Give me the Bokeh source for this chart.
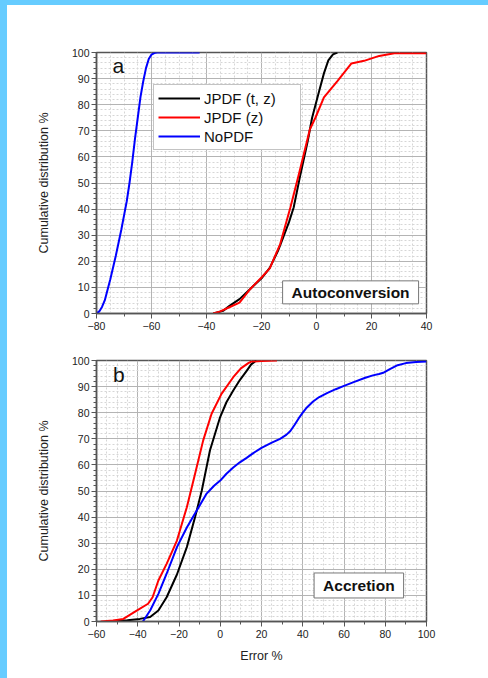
from bokeh.plotting import figure
from bokeh.models import FixedTicker, Legend, LegendItem, Label, Range1d, Column
from bokeh.embed import file_html
from bokeh.resources import INLINE

# ---------------- data ----------------
# Panel a: Autoconversion
a_tz_x = [-37.5, -34, -31.5, -28, -24, -20, -17, -14, -12.6, -10, -8.3, -5.9, -3.2, -1.6, 0.9, 2.7, 4.3, 6, 7.6]
a_tz_y = [0, 1, 3, 5.5, 9.5, 13.5, 17.5, 24, 27.8, 35, 40.6, 53, 66, 75, 85, 92, 97, 99.3, 100]

a_z_x = [-37.6, -35, -31.5, -28, -24, -20, -17, -13.2, -9.5, -6.5, -2.4, -0.4, 2.7, 7.6, 12.7, 17.3, 22.8, 28.3, 40]
a_z_y = [0, 0.8, 2.5, 4.2, 9.5, 13.8, 17.3, 26.6, 40.6, 53, 70.6, 75, 82.8, 89, 95.8, 96.8, 98.7, 99.7, 99.7]

a_no_x = [-80, -79, -78, -77, -76, -75, -74, -73, -72, -71, -70, -69, -68, -67, -66, -65, -64, -63, -62, -61, -60, -59, -58, -42.5]
a_no_y = [0, 0.8, 2.5, 5, 9, 13, 17.5, 22, 27, 32, 37.5, 43, 50, 58, 67, 75, 83, 89, 94, 97.5, 99.2, 99.8, 100, 100]

# Panel b: Accretion
b_tz_x = [-53.5, -45, -39, -34, -30, -26, -21, -16.2, -12.2, -9, -5, -0.2, 3, 6.3, 9.5, 12.8, 15, 17.5]
b_tz_y = [0, 0.5, 1, 1.7, 4.2, 9.3, 18, 28.5, 40, 50, 65.5, 78, 84, 88.5, 92.5, 96, 98.5, 100]

b_z_x = [-58, -52, -47, -40.5, -35, -32.8, -30, -26, -21, -16.2, -12.2, -8.3, -4.2, 0.6, 6.3, 10, 13.6, 15, 20, 27.5]
b_z_y = [0, 0.4, 1, 4.2, 6.8, 9.3, 15.7, 22.1, 31, 43.8, 56.6, 69.3, 79.6, 87.2, 93.6, 97, 99, 99.6, 99.8, 100]

b_no_x = [-37.5, -34, -30, -26, -21, -16.2, -11.4, -6.6, -3, 0, 3, 6.3, 9.5, 12.8, 16, 20, 25, 29, 32, 34, 36, 38, 40, 42,
          45, 48, 52, 56, 60, 65, 70, 74, 77, 79, 82, 86, 90, 95, 100]
b_no_y = [0, 4.2, 10.6, 18.3, 28.5, 36, 42.5, 49, 52, 54, 56.6, 59, 61, 62.7, 64.5, 66.5, 68.5, 70, 71.5, 73, 75.3, 77.8,
          80, 82, 84.3, 86, 87.6, 89, 90.3, 91.8, 93.3, 94.3, 94.8, 95.3, 96.6, 98.2, 99, 99.4, 99.6]

series_names = ["JPDF (t, z)", "JPDF (z)", "NoPDF"]
series_colors = ["#000000", "#ff0000", "#0000ff"]

a_xticks = [-80, -60, -40, -20, 0, 20, 40]
b_xticks = [-60, -40, -20, 0, 20, 40, 60, 80, 100]
yticks = [0, 10, 20, 30, 40, 50, 60, 70, 80, 90, 100]

FONT = "Liberation Sans"


def make_fig(height, xr, xticks, min_top, min_bottom):
    p = figure(width=481, height=height, x_range=Range1d(*xr), y_range=Range1d(0, 100),
               output_backend="svg", toolbar_location=None,
               min_border_top=min_top, min_border_bottom=min_bottom,
               min_border_left=89, min_border_right=62)
    p.background_fill_color = "white"
    p.border_fill_color = "white"
    p.outline_line_color = "#555555"
    p.outline_line_width = 1.5

    x_minor = [v + 10 for v in xticks[:-1]]
    y_minor = [v for v in range(0, 101, 2) if v % 10 != 0]
    x_grid_minor = [v for v in range(int(xr[0]), int(xr[1]) + 1, 5) if v % 20 != 0]

    p.xaxis.ticker = FixedTicker(ticks=xticks, minor_ticks=x_minor)
    p.yaxis.ticker = FixedTicker(ticks=yticks, minor_ticks=y_minor)
    p.xgrid[0].ticker = FixedTicker(ticks=xticks, minor_ticks=x_grid_minor)
    p.ygrid[0].ticker = FixedTicker(ticks=yticks, minor_ticks=y_minor)

    for g in (p.xgrid[0], p.ygrid[0]):
        g.grid_line_color = "#b4b4b4"
        g.grid_line_width = 1
        g.minor_grid_line_color = "#d6d6d6"
        g.minor_grid_line_dash = "2 2"
        g.minor_grid_line_width = 1

    for ax in (p.xaxis[0], p.yaxis[0]):
        ax.axis_line_color = "#555555"
        ax.axis_line_width = 1.5
        ax.major_tick_line_color = "#555555"
        ax.minor_tick_line_color = "#555555"
        ax.major_tick_out = 5
        ax.major_tick_in = 0
        ax.minor_tick_out = 3
        ax.minor_tick_in = 0
        ax.major_label_text_font = FONT
        ax.major_label_text_font_size = "10.5px"
        ax.major_label_text_color = "#222222"
        ax.axis_label_text_font = FONT
        ax.axis_label_text_font_style = "normal"
        ax.axis_label_text_color = "#222222"
        ax.axis_label_text_font_size = "12.5px"

    p.xaxis[0].major_label_standoff = 3
    p.yaxis[0].major_label_standoff = 2
    p.yaxis[0].axis_label = "Cumulative distribution %"
    p.yaxis[0].axis_label_standoff = 18
    return p


# ---------------- panel a ----------------
pa = make_fig(333, (-80, 40), a_xticks, 47, 25)
rs = []
for xs, ys, c in zip([a_tz_x, a_z_x, a_no_x], [a_tz_y, a_z_y, a_no_y], series_colors):
    rs.append(pa.line(xs, ys, line_color=c, line_width=2))

legend = Legend(items=[LegendItem(label=n, renderers=[r]) for n, r in zip(series_names, rs)],
                location=(57, 163), orientation="vertical")
legend.label_text_font = FONT
legend.label_text_font_size = "15px"
legend.label_text_color = "#111111"
legend.glyph_width = 42
legend.glyph_height = 18
legend.label_height = 18
legend.label_width = 92
legend.label_standoff = 4
legend.spacing = 1
legend.padding = 4
legend.margin = 0
legend.border_line_color = "#888888"
legend.border_line_width = 1
legend.background_fill_color = "white"
legend.background_fill_alpha = 1
pa.add_layout(legend)

pa.add_layout(Label(x=-74.2, y=95, text="a", text_font=FONT, text_font_size="21px",
                    text_color="#111111", text_baseline="alphabetic"))
pa.add_layout(Label(x=12.4, y=8.1, text="Autoconversion", text_font=FONT,
                    text_font_size="15.5px", text_font_style="bold", text_color="#111111",
                    text_align="center", text_baseline="middle",
                    background_fill_color="white", border_line_color="#777777",
                    border_line_width=1,
                    padding=dict(left=9, right=9, top=3, bottom=3)))

# ---------------- panel b ----------------
pb = make_fig(340, (-60, 100), b_xticks, 22, 57)
for xs, ys, c in zip([b_tz_x, b_z_x, b_no_x], [b_tz_y, b_z_y, b_no_y], series_colors):
    pb.line(xs, ys, line_color=c, line_width=2)
pb.xaxis[0].axis_label = "Error %"
pb.xaxis[0].axis_label_standoff = 8

pb.add_layout(Label(x=-52, y=94.5, text="b", text_font=FONT, text_font_size="21px",
                    text_color="#111111", text_baseline="alphabetic"))
pb.add_layout(Label(x=67.2, y=13.8, text="Accretion", text_font=FONT,
                    text_font_size="15.5px", text_font_style="bold", text_color="#111111",
                    text_align="center", text_baseline="middle",
                    background_fill_color="white", border_line_color="#777777",
                    border_line_width=1,
                    padding=dict(left=9, right=9, top=4, bottom=4)))

inner = Column(children=[pa, pb], spacing=0, margin=(5, 0, 0, 7),
               styles={"background-color": "white"})
page = Column(children=[inner], styles={"background-color": "#66CCFF"})

open("out.html", "w").write(file_html(page, INLINE))
